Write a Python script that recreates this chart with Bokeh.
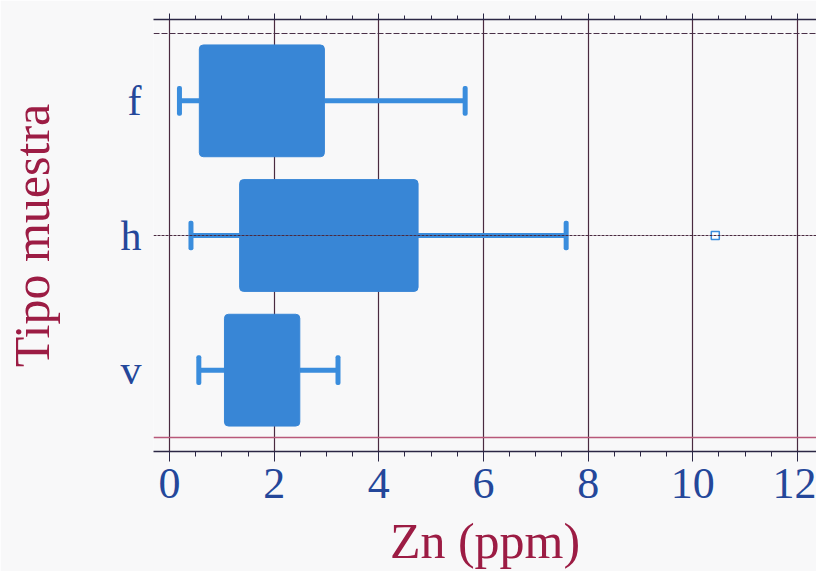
from bokeh.plotting import figure
from bokeh.models import (Range1d, FactorRange, SingleIntervalTicker, LinearAxis,
                          Span, ColumnDataSource)
from bokeh.embed import file_html
from bokeh.resources import INLINE

# ---- data ----
categories = ["f", "h", "v"]
whisker_low = [0.19, 0.41, 0.56]
q1 = [0.57, 1.34, 1.05]
q3 = [2.96, 4.75, 2.49]
whisker_high = [5.65, 7.58, 3.22]
outlier_cat = ["h"]
outlier_val = [10.43]
x_tick_interval = 2
x_label = "Zn (ppm)"
y_label = "Tipo muestra"

BOX = "#3886d6"
WHISK = "#3a8ddd"
TICKCOL = "#24479a"
TITLECOL = "#9c1c44"
GRIDCOL = "#4a2a40"
AXCOL = "#2b2745"
BG = "#f8f8f9"
FONT = "Liberation Serif"

src = ColumnDataSource(dict(cat=categories, lo=whisker_low, q1=q1, q3=q3, hi=whisker_high))
out_src = ColumnDataSource(dict(cat=outlier_cat, val=outlier_val))

p = figure(width=816, height=571, output_backend="svg", toolbar_location=None,
           x_range=Range1d(-0.306, 12.364),
           y_range=FactorRange(factors=categories[::-1], range_padding=0.104,
                               range_padding_units="absolute"),
           x_axis_label=x_label, y_axis_label=y_label,
           min_border_left=150, min_border_right=0, min_border_top=19, min_border_bottom=0,
           background_fill_color=BG, border_fill_color=BG, outline_line_color=None)

ticker = SingleIntervalTicker(interval=x_tick_interval, num_minor_ticks=4)

# bottom x axis
xa = p.xaxis[0]
xa.ticker = ticker
xa.axis_line_color = AXCOL
xa.axis_line_width = 1.5
xa.major_tick_line_color = AXCOL
xa.minor_tick_line_color = AXCOL
xa.major_tick_in = 0
xa.major_tick_out = 10
xa.minor_tick_in = 0
xa.minor_tick_out = 5
xa.major_label_standoff = 7
xa.major_label_text_font = FONT
xa.major_label_text_font_size = "44px"
xa.major_label_text_color = TICKCOL
xa.axis_label_text_font = FONT
xa.axis_label_text_font_size = "50px"
xa.axis_label_text_font_style = "normal"
xa.axis_label_text_color = TITLECOL
xa.axis_label_standoff = 12

# top x axis (ticks only)
top = LinearAxis(ticker=ticker, axis_line_color=AXCOL, axis_line_width=1.5,
                 major_tick_line_color=AXCOL, minor_tick_line_color=AXCOL,
                 major_tick_in=0, major_tick_out=6, minor_tick_in=0, minor_tick_out=4,
                 major_label_text_font_size="1px", major_label_text_color=None,
                 major_label_standoff=0)
p.add_layout(top, "above")

# left y axis
ya = p.yaxis[0]
ya.axis_line_color = None
ya.major_tick_line_color = None
ya.minor_tick_line_color = None
ya.major_tick_out = 0
ya.major_label_standoff = 12
ya.major_label_text_font = FONT
ya.major_label_text_font_size = "42px"
ya.major_label_text_color = TICKCOL
ya.axis_label_text_font = FONT
ya.axis_label_text_font_size = "50px"
ya.axis_label_text_font_style = "normal"
ya.axis_label_text_color = TITLECOL
ya.axis_label_standoff = 58

# grids
p.xgrid.ticker = SingleIntervalTicker(interval=x_tick_interval)
p.xgrid.grid_line_color = GRIDCOL
p.xgrid.grid_line_width = 1.2
p.ygrid.grid_line_color = None

n = len(categories)
p.add_layout(Span(location=categories[::-1].index("h") + 0.5, dimension="width",
                  line_color=GRIDCOL, line_width=1.2, line_dash="3 1"))
p.add_layout(Span(location=n, dimension="width", line_color="#4a3048",
                  line_width=1.2, line_dash="6 2"))
p.add_layout(Span(location=0, dimension="width", line_color="#b8587a",
                  line_width=1.4))

# whiskers
p.segment(x0="lo", x1="q1", y0="cat", y1="cat", source=src, line_color=WHISK, line_width=5)
p.segment(x0="q3", x1="hi", y0="cat", y1="cat", source=src, line_color=WHISK, line_width=5)
p.rect(x="lo", y="cat", width=5, width_units="screen", height=0.22, source=src,
       fill_color=WHISK, line_color=None, border_radius=2)
p.rect(x="hi", y="cat", width=5, width_units="screen", height=0.22, source=src,
       fill_color=WHISK, line_color=None, border_radius=2)

# boxes
p.hbar(y="cat", left="q1", right="q3", height=0.83, source=src,
       fill_color=BOX, line_color=BOX, line_width=1, border_radius=4)

# outlier
p.scatter(x="val", y="cat", source=out_src, marker="square", size=8,
          fill_color="white", line_color=WHISK, line_width=1.5)

open("out.html", "w").write(file_html(p, INLINE))
